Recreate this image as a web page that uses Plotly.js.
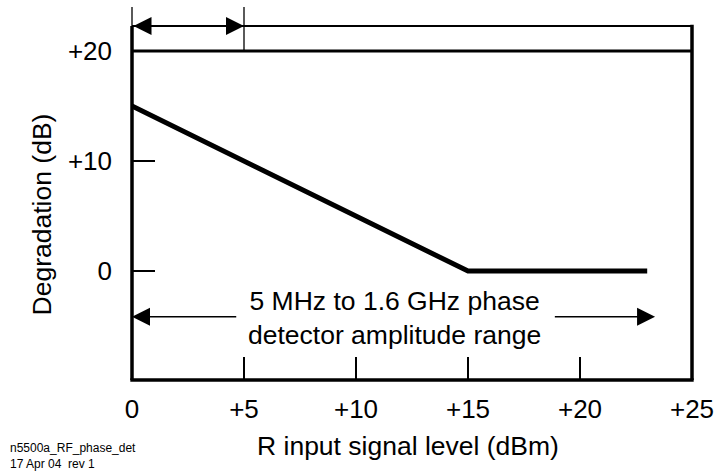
<!DOCTYPE html>
<html><head><meta charset="utf-8">
<script src="https://cdn.plot.ly/plotly-3.0.1.min.js"></script>
<style>html,body{margin:0;padding:0;background:#fff}</style>
</head><body><div id="chart" style="width:714px;height:476px"></div>
<script>
// Data
const inputLevel = [0, 15, 23];       // R input signal level (dBm)
const degradation = [15, 0, 0];       // Degradation (dB)
const xTickVals = [0, 5, 10, 15, 20, 25];
const xTickText = ['0', '+5', '+10', '+15', '+20', '+25'];
const yTickVals = [0, 10, 20];
const yTickText = ['0', '+10', '+20'];

const FONT = 'Liberation Sans, Arial, Helvetica, sans-serif';
const yRange = [-9.9, 24.0];
const topLine = 0.9491;                       // paper y of the top frame line
const topY = yRange[0] + topLine * (yRange[1] - yRange[0]);
const arrowY = -4.15;

const trace = {
  x: inputLevel, y: degradation, type: 'scatter', mode: 'lines',
  line: {color: '#000', width: 5}, hoverinfo: 'skip', showlegend: false
};

const axisCommon = {
  ticks: 'inside', ticklen: 23, tickwidth: 1.3, tickcolor: '#000',
  showline: false, showgrid: false, zeroline: false, fixedrange: true,
  ticklabeloverflow: 'allow',
  tickfont: {family: FONT, size: 26, color: '#000'}
};

const layout = {
  width: 714, height: 476,
  margin: {l: 132, r: 22, t: 7, b: 96},
  paper_bgcolor: '#fff', plot_bgcolor: '#fff',
  font: {family: FONT, color: '#000'},
  showlegend: false,
  xaxis: Object.assign({}, axisCommon, {range: [0, 25], tickmode: 'array', tickvals: xTickVals, ticktext: xTickText, ticklabelstandoff: 11}),
  yaxis: Object.assign({}, axisCommon, {range: yRange, tickmode: 'array', tickvals: yTickVals, ticktext: yTickText, ticklabelstandoff: 19}),
  shapes: [
    // frame
    {type: 'line', xref: 'paper', yref: 'paper', x0: -0.003, x1: 1.003, y0: 0, y1: 0, line: {color: '#000', width: 3.5}},
    {type: 'line', xref: 'paper', yref: 'paper', x0: 0, x1: 0, y0: 0, y1: topLine, line: {color: '#000', width: 3.5}},
    {type: 'line', xref: 'paper', yref: 'paper', x0: 1, x1: 1, y0: 0, y1: topLine + 0.003, line: {color: '#000', width: 3.5}},
    {type: 'line', xref: 'paper', yref: 'paper', x0: 0, x1: 1, y0: topLine, y1: topLine, line: {color: '#000', width: 2}},
    {type: 'line', xref: 'paper', yref: 'paper', x0: 0, x1: 0, y0: topLine, y1: 1, line: {color: '#000', width: 1.3}},
    // +20 dB line
    {type: 'line', xref: 'paper', yref: 'y', x0: 0, x1: 1, y0: 20, y1: 20, line: {color: '#000', width: 3}},
    // vertical marker at +5 dBm
    {type: 'line', xref: 'x', yref: 'y', x0: 5, x1: 5, y0: 20, y1: yRange[1], line: {color: '#000', width: 1.3}}
  ],
  annotations: [
    {x: 5, y: topY, ax: 0, ay: topY, xref: 'x', yref: 'y', axref: 'x', ayref: 'y', text: '', showarrow: true,
     arrowhead: 2, startarrowhead: 2, arrowside: 'end+start', arrowwidth: 1.5, arrowsize: 2.4, startarrowsize: 2.4, arrowcolor: '#000'},
    {x: 0, y: arrowY, ax: 4.72, ay: arrowY, xref: 'x', yref: 'y', axref: 'x', ayref: 'y', text: '', showarrow: true,
     arrowhead: 2, arrowwidth: 1.5, arrowsize: 2.4, arrowcolor: '#000'},
    {x: 23.35, y: arrowY, ax: 18.81, ay: arrowY, xref: 'x', yref: 'y', axref: 'x', ayref: 'y', text: '', showarrow: true,
     arrowhead: 2, arrowwidth: 1.5, arrowsize: 2.4, arrowcolor: '#000'},
    {x: 11.72, y: -4.25, xref: 'x', yref: 'y', showarrow: false,
     text: '5 MHz to 1.6 GHz phase<br>detector amplitude range', font: {family: FONT, size: 26.5, color: '#000'}},
    // axis titles
    {x: 0.493, y: -0.177, xref: 'paper', yref: 'paper', xanchor: 'center', yanchor: 'middle', showarrow: false,
     text: 'R input signal level (dBm)', font: {family: FONT, size: 26.5, color: '#000'}},
    {x: -0.16, y: 0.445, xref: 'paper', yref: 'paper', xanchor: 'center', yanchor: 'middle', showarrow: false, textangle: -90,
     text: 'Degradation (dB)', font: {family: FONT, size: 26.5, color: '#000'}},
    // footnote
    {x: -0.2215, y: -0.2035, xref: 'paper', yref: 'paper', xanchor: 'left', yanchor: 'middle', showarrow: false, align: 'left',
     text: 'n5500a_RF_phase_det<br>17 Apr 04\u00a0 rev 1', font: {family: FONT, size: 12, color: '#000'}}
  ]
};

Plotly.newPlot('chart', [trace], layout, {displayModeBar: false, staticPlot: true});
</script></body></html>
